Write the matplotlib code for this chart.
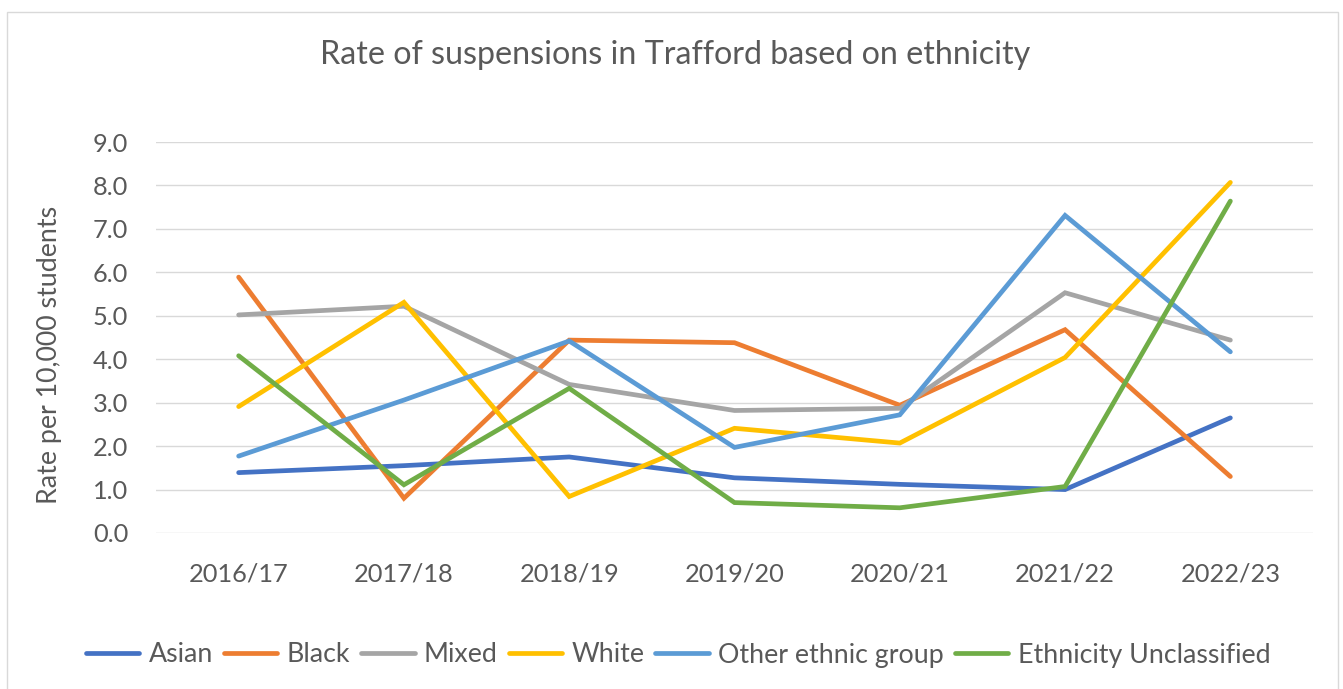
import matplotlib
matplotlib.use("Agg")
import matplotlib.pyplot as plt
from matplotlib.patches import Rectangle

plt.rcParams['font.family'] = ['Lato', 'DejaVu Sans']

years = ["2016/17", "2017/18", "2018/19", "2019/20", "2020/21", "2021/22", "2022/23"]

asian = [1.39, 1.55, 1.75, 1.27, 1.12, 1.00, 2.65]
black = [5.89, 0.80, 4.44, 4.38, 2.94, 4.68, 1.30]
mixed = [5.02, 5.22, 3.42, 2.82, 2.87, 5.53, 4.44]
white = [2.91, 5.31, 0.84, 2.41, 2.07, 4.04, 8.07]
other = [1.77, 3.06, 4.42, 1.97, 2.72, 7.31, 4.17]
unclassified = [4.08, 1.11, 3.33, 0.70, 0.58, 1.07, 7.64]

series = [
    ("Asian", asian, "#4472C4"),
    ("Black", black, "#ED7D31"),
    ("Mixed", mixed, "#A5A5A5"),
    ("White", white, "#FFC000"),
    ("Other ethnic group", other, "#5B9BD5"),
    ("Ethnicity Unclassified", unclassified, "#70AD47"),
]

text_color = "#595959"
W, H = 1343, 689
fig = plt.figure(figsize=(W / 100, H / 100), dpi=100)

# chart-area frame
fig.patches.append(Rectangle((7 / W, -0.05), 1331 / W, 1.05 - 12 / H,
                             transform=fig.transFigure, fill=False,
                             edgecolor="#D9D9D9", linewidth=1.0))

ax = fig.add_axes([156 / W, 1 - 533 / H, 1157 / W, 391 / H])
x = list(range(len(years)))
for name, vals, col in series:
    ax.plot(x, vals, color=col, linewidth=3.4, label=name,
            solid_capstyle="round", solid_joinstyle="miter")

ax.set_xlim(-0.5, len(years) - 0.5)
ax.set_ylim(0, 9)
ax.set_yticks([i for i in range(10)])
ax.set_yticklabels([f"{i:.1f}" for i in range(10)])
ax.set_xticks(x)
ax.set_xticklabels(years)
ax.grid(axis="y", color="#D9D9D9", linewidth=1.0)
ax.set_axisbelow(True)
for s in ax.spines.values():
    s.set_visible(False)
ax.tick_params(length=0, colors=text_color, labelsize=18.3)
ax.tick_params(axis="y", pad=20)
ax.tick_params(axis="x", pad=21)
ax.set_ylabel("Rate per 10,000 students", color=text_color, fontsize=19.3,
              va="center")
ax.yaxis.set_label_coords((50 - 156) / 1157, (533 - 355) / 391)

fig.text(0.5025, 1 - 55 / H, "Rate of suspensions in Trafford based on ethnicity",
         ha="center", va="center", color=text_color, fontsize=23.2)

ax.legend(loc="center", bbox_to_anchor=((678 - 156) / 1157, -(655 - 533) / 391),
          bbox_transform=ax.transAxes,
          ncol=6, frameon=False, fontsize=19.3, labelcolor=text_color,
          handlelength=2.0, handletextpad=0.35, columnspacing=0.4)

fig.savefig("out.png", dpi=100, facecolor="white")
